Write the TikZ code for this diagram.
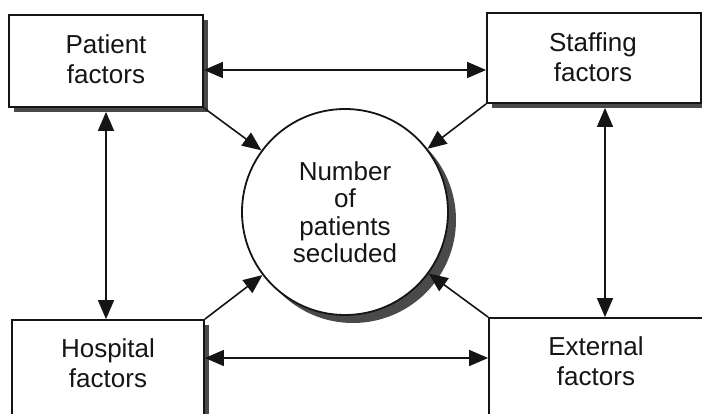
\documentclass[tikz,border=0pt]{standalone}
\usepackage{fontspec}
\setmainfont{Liberation Sans}
\usetikzlibrary{arrows.meta,shadows}
\definecolor{shadowc}{HTML}{4A4A4A}
\definecolor{inkc}{HTML}{151515}
\tikzset{
  boxnode/.style={draw=inkc, line width=1.8pt, fill=white, rectangle,
    drop shadow={shadow xshift=5pt, shadow yshift=-5pt, opacity=1, fill=shadowc}},
  txt/.style={text=inkc, font=\fontsize{26}{30}\selectfont, align=center, inner sep=0pt},
  circnode/.style={draw=inkc, line width=1.8pt, fill=white, circle, minimum size=206pt,
    inner sep=0pt, text=inkc, font=\fontsize{26}{27.5}\selectfont, align=center,
    drop shadow={shadow xshift=8pt, shadow yshift=-8pt, opacity=1, fill=shadowc}},
  tip/.tip={Triangle[length=19pt,width=16pt]},
  arr/.style={draw=inkc, line width=1.6pt, -tip},
  biarr/.style={draw=inkc, line width=1.6pt, tip-tip}
}
\begin{document}
\begin{tikzpicture}[x=1pt,y=-1pt]
\useasboundingbox (0,0) rectangle (702,414);
\fill[white] (0,0) rectangle (702,414);
\clip (0,0) rectangle (702,414);
% boxes
\node[boxnode, minimum width=194pt, minimum height=92pt] (patient) at (106,61) {};
\node[txt] (patienttext) at (106,59) {Patient\\factors};
\node[boxnode, minimum width=214pt, minimum height=90pt] (staffing) at (594,58) {};
\node[txt] (staffingtext) at (593,57) {Staffing\\factors};
\node[boxnode, minimum width=192pt, minimum height=120pt] (hospital) at (108,380) {};
\node[txt] (hospitaltext) at (108,363) {Hospital\\factors};
\node[boxnode, minimum width=232pt, minimum height=122pt] (external) at (605,379) {};
\node[txt] (externaltext) at (596,361) {External\\factors};
% circle
\node[circnode] (circ) at (345,212) {Number\\of\\patients\\secluded};
% connectors
\draw[biarr] ([yshift=-9pt]patient.east) -- ([yshift=-9pt]patient.east -| staffing.west);
\draw[biarr] ([yshift=22pt]hospital.east) -- ([yshift=22pt]hospital.east -| external.west);
\draw[biarr, shorten <=4pt] (patient.south) -- (patient.south |- hospital.north);
\draw[biarr, shorten <=4pt] ([xshift=11pt]staffing.south) -- ([xshift=11pt]staffing.south |- external.north);
\draw[arr] (patient.south east) -- (circ);
\draw[arr] (staffing.south west) -- (circ);
\draw[arr] (hospital.north east) -- (circ);
\draw[arr] (external.north west) -- (circ);
\end{tikzpicture}
\end{document}
